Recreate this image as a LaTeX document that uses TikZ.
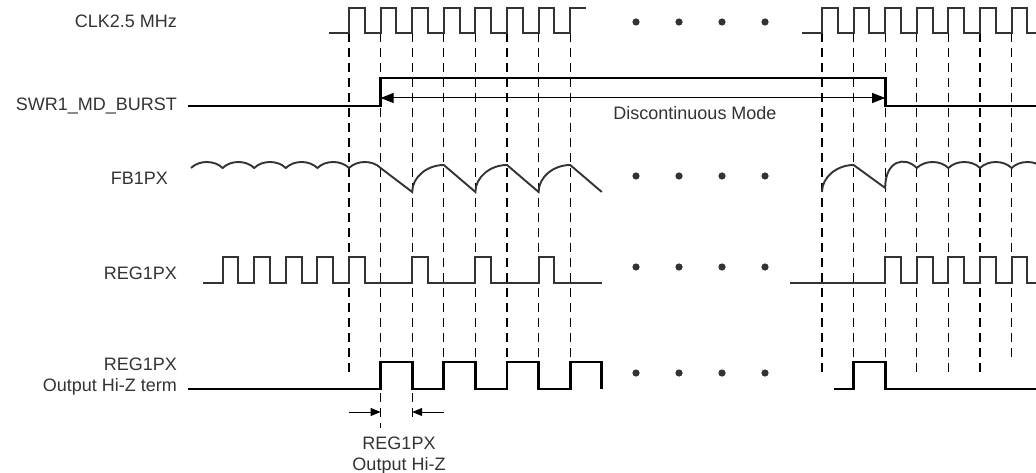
\documentclass[tikz,border=0pt]{standalone}
\usepackage{fontspec}
\setmainfont{Liberation Sans}
\usetikzlibrary{arrows.meta}
\definecolor{wave}{HTML}{333333}
\begin{document}
\begin{tikzpicture}[x=1pt,y=-1pt,
		sig/.style={wave,line width=1.9pt},
		bold/.style={black,line width=2.8pt},
		guide/.style={black,line width=1.1pt,dash pattern=on 9pt off 6pt},
		lbl/.style={text=wave,font=\fontsize{18}{21}\selectfont,inner sep=0pt},
		dim/.style={black,line width=1pt,-{Triangle[length=10pt,width=8pt]}}]
	\useasboundingbox (0,0) rectangle (1036,473);
	\clip (0,0) rectangle (1036,473);
	% labels
	\node[lbl,anchor=east] (CLK) at (177,21) {CLK2.5 MHz};
	\node[lbl,anchor=east] (SWR) at (177,106) {SWR1\_MD\_BURST};
	\node[lbl,anchor=east] (FB) at (168,178) {FB1PX};
	\node[lbl,anchor=east] (REG) at (177,273) {REG1PX};
	\node[lbl,anchor=east,align=right] (HIZ) at (177,377) {REG1PX\\Output Hi-Z term};
	% guides
	\foreach \X/\E in {349/373,380.6/428,412.2/418,443.8/362,475.4/362,507/362,538.6/362,570.2/362,
			822/373,853.6/362,885.2/362,916.8/373,948.4/373,980/373,1011.6/362}
		\draw[guide] (\X,33) -- (\X,\E);
	% clock
	\draw[sig] (329,33) foreach \a in {349,380.6,412.2,443.8,475.4,507,538.6}
		{-- (\a,33) -- (\a,8) -- (\a+15.8,8) -- (\a+15.8,33)} -- (570.2,33) -- (570.2,8) -- (586,8);
	\draw[sig] (802,33) foreach \a in {822,853.6,885.2,916.8,948.4,980,1011.6}
		{-- (\a,33) -- (\a,8) -- (\a+15.8,8) -- (\a+15.8,33)} -- (1036,33);
	% burst
	\coordinate (sw0) at (188,106);
	\coordinate (swA) at (380.6,98);
	\coordinate (swB) at (885.2,98);
	\draw[bold] (sw0) -- (380.6,106) -- (380.6,78) -- (885.2,78) -- (885.2,106) -- (1036,106);
	\draw[black,line width=1pt,{Triangle[length=13pt,width=10pt]}-{Triangle[length=13pt,width=10pt]}] (swA) -- (swB);
	\node[lbl] (mode) at (695,113) {Discontinuous Mode};
	% FB1PX
	\draw[sig] (191,168) foreach \a in {191,222.6,254.2,285.8,317.4,349}
		{.. controls (\a+8,160) and (\a+23.6,160) .. (\a+31.6,168)} -- (412.2,192)
		foreach \a in {412.2,475.4,538.6}
		{.. controls (\a,177) and (\a+15,165) .. (\a+31.6,165) -- (\a+63.2,192)};
	\draw[sig] (822,192) .. controls (822,177) and (837,165) .. (853.6,165) -- (885.2,188)
		.. controls (885.2,160) and (905,156) .. (916.8,168)
		foreach \a in {916.8,948.4,980,1011.6}
		{.. controls (\a+8,160) and (\a+23.6,160) .. (\a+31.6,168)};
	% REG1PX
	\draw[sig] (203,283) foreach \a in {222.6,254.2,285.8,317.4,349,412.2,475.4,538.6}
		{-- (\a,283) -- (\a,257) -- (\a+15.8,257) -- (\a+15.8,283)} -- (602,283);
	\draw[sig] (790,283) foreach \a in {885.2,916.8,948.4,980,1011.6}
		{-- (\a,283) -- (\a,257) -- (\a+15.8,257) -- (\a+15.8,283)} -- (1036,283);
	% output hi-z
	\coordinate (hz0) at (188,389);
	\draw[bold] (hz0) foreach \a in {380.6,443.8,507,570.2}
		{-- (\a,389) -- (\a,362) -- (\a+31.6,362) -- (\a+31.6,389)};
	\draw[bold] (834,389) -- (853.6,389) -- (853.6,362) -- (885.2,362) -- (885.2,389) -- (1036,389);
	\coordinate (hzA) at (380.6,412);
	\coordinate (hzB) at (412.2,412);
	\draw[dim] (349,412) -- (hzA);
	\draw[dim] (444,412) -- (hzB);
	\node[lbl,align=center] (hizw) at (399,456) {REG1PX\\Output Hi-Z};
	% dots
	\foreach \y in {22,176,267,373}
		\foreach \x in {636,679,722,765}
			\fill[wave] (\x,\y) circle (3.6);
\end{tikzpicture}
\end{document}
